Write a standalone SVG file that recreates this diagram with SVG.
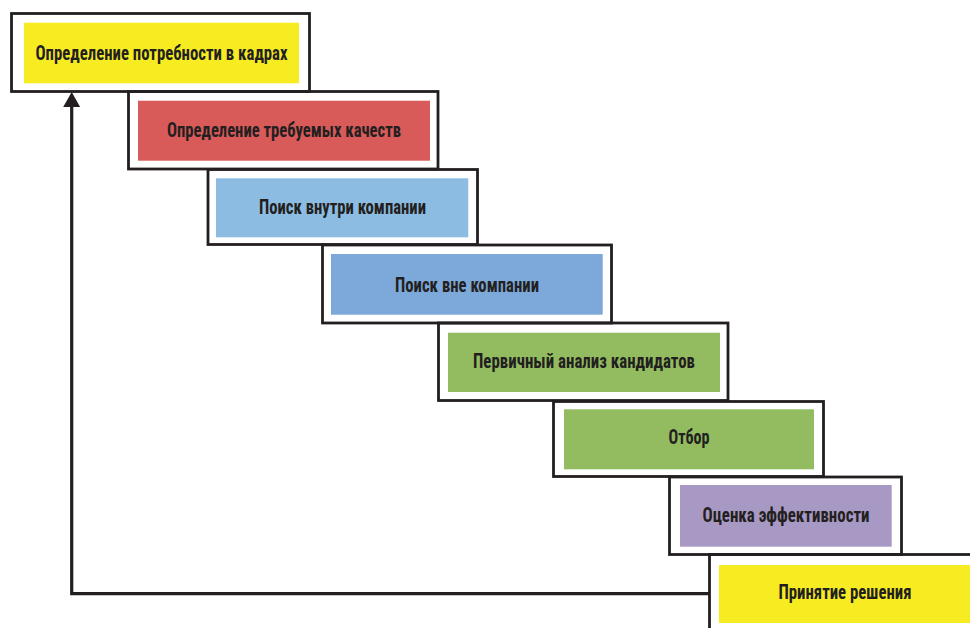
<svg xmlns="http://www.w3.org/2000/svg" width="970" height="628" viewBox="0 0 970 628">
<style>
.frame{fill:none;stroke:#231f20;stroke-width:2.8}
.lbl{font-family:"Roboto Condensed","Liberation Sans Narrow","Liberation Sans",Arial,sans-serif;font-weight:700;font-size:19.5px;fill:#231f20;text-anchor:middle}
.conn{fill:none;stroke:#231f20;stroke-width:3.2}
</style>
<defs>
<marker id="arr" viewBox="0 0 15 17" refX="7" refY="8.5" markerWidth="15" markerHeight="17" markerUnits="userSpaceOnUse" orient="auto">
<path d="M0,0 L15,8.5 L0,17 z" fill="#231f20"/>
</marker>
</defs>
<rect width="970" height="628" fill="#ffffff"/>
<g id="connectors">
<polyline class="conn" points="709.5,593.7 71.7,593.7 71.7,100" marker-end="url(#arr)"/>
</g>
<g id="node1">
<rect x="24" y="22.7" width="275" height="60.6" fill="#f7ec22"/>
<rect class="frame" x="11.5" y="13.5" width="298" height="78"/>
<text class="lbl" x="161.5" y="59.5" textLength="252" lengthAdjust="spacingAndGlyphs">Определение потребности в кадрах</text>
</g>
<g id="node2">
<rect x="138" y="100.7" width="292" height="60" fill="#d95b59"/>
<rect class="frame" x="128.5" y="91.5" width="309.5" height="77.5"/>
<text class="lbl" x="284" y="137" textLength="234" lengthAdjust="spacingAndGlyphs">Определение требуемых качеств</text>
</g>
<g id="node3">
<rect x="216" y="178.3" width="252.3" height="59" fill="#8dbce3"/>
<rect class="frame" x="208" y="169.5" width="269.5" height="75"/>
<text class="lbl" x="342.5" y="213.5" textLength="167" lengthAdjust="spacingAndGlyphs">Поиск внутри компании</text>
</g>
<g id="node4">
<rect x="331" y="254" width="271.7" height="60.7" fill="#7ca9da"/>
<rect class="frame" x="322.5" y="245" width="289" height="78"/>
<text class="lbl" x="467" y="292" textLength="144" lengthAdjust="spacingAndGlyphs">Поиск вне компании</text>
</g>
<g id="node5">
<rect x="448" y="332.7" width="272" height="59.3" fill="#92bc5f"/>
<rect class="frame" x="438.5" y="323" width="289.5" height="77.5"/>
<text class="lbl" x="584" y="367.5" textLength="222" lengthAdjust="spacingAndGlyphs">Первичный анализ кандидатов</text>
</g>
<g id="node6">
<rect x="564" y="409.3" width="250" height="60" fill="#92bc5f"/>
<rect class="frame" x="553.5" y="401.5" width="270" height="75"/>
<text class="lbl" x="689" y="444" textLength="41" lengthAdjust="spacingAndGlyphs">Отбор</text>
</g>
<g id="node7">
<rect x="680" y="485" width="211.7" height="61.7" fill="#a899c4"/>
<rect class="frame" x="669.5" y="477" width="232" height="77.5"/>
<text class="lbl" x="786" y="522" textLength="167" lengthAdjust="spacingAndGlyphs">Оценка эффективности</text>
</g>
<g id="node8">
<rect x="719" y="565" width="251" height="58" fill="#f7ec22"/>
<rect class="frame" x="709.5" y="554.5" width="300" height="100"/>
<text class="lbl" x="845" y="598.5" textLength="133" lengthAdjust="spacingAndGlyphs">Принятие решения</text>
</g>
</svg>
